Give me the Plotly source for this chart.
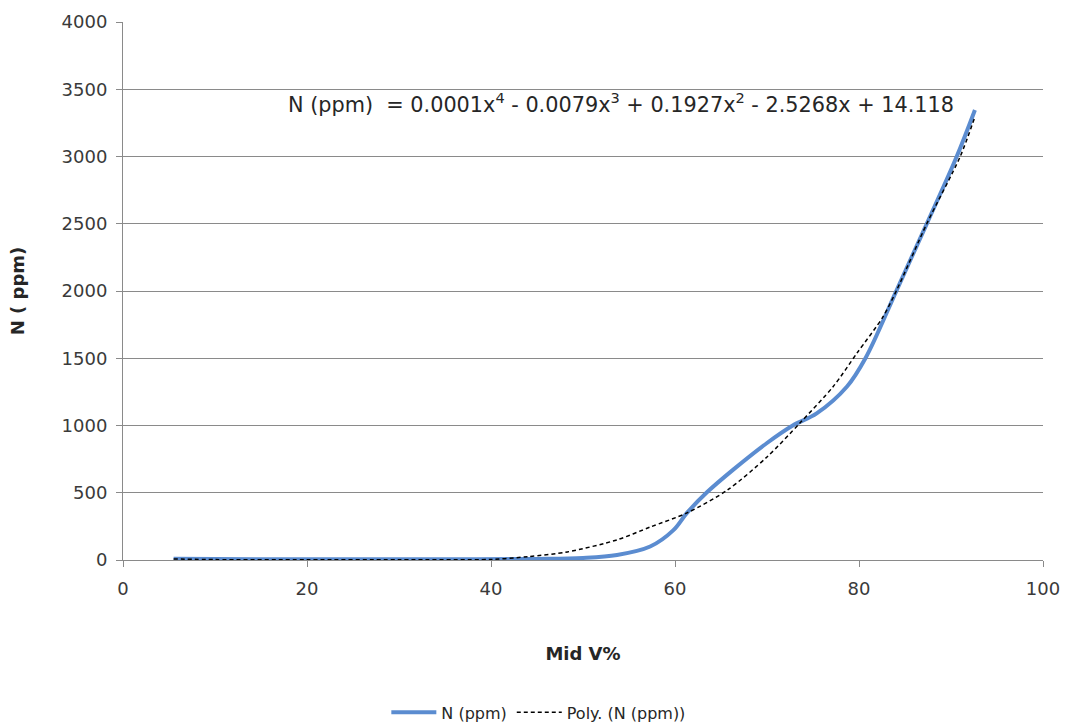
import plotly.graph_objects as go

# Measured nitrogen content against mid volume percent
mid_v = [5.5, 15, 25, 35, 45, 50, 53.7, 57.3, 59.8, 61.3, 63.5, 66.3, 70,
         72.8, 75.4, 78.7, 80.7, 84.1, 87.4, 90.6, 92.6]
n_ppm = [10, 6, 6, 6, 8, 15, 37, 100, 220, 350, 505, 670, 870,
         1000, 1090, 1290, 1500, 2007, 2505, 2996, 3346]

# Fourth-order polynomial trend values
poly_x = [5.5, 10, 20, 30, 40, 44, 48.3, 53.7, 57.3, 61.3, 65.7, 70,
          73.6, 77.2, 79.8, 82.6, 84.1, 87.4, 91, 92.6]
poly_y = [8, 3, 2, 2, 4, 25, 60, 150, 245, 350, 520, 766,
          1020, 1290, 1540, 1807, 2007, 2505, 3000, 3295]

y_ticks = [0, 500, 1000, 1500, 2000, 2500, 3000, 3500, 4000]
x_ticks = [0, 20, 40, 60, 80, 100]

equation = ("N (ppm)  = 0.0001x<sup>4</sup> - 0.0079x<sup>3</sup> + "
            "0.1927x<sup>2</sup> - 2.5268x + 14.118")

grey = "#8a8a8a"
text_dark = "#262626"
tick_font = dict(family="DejaVu Sans", size=18, color="#3a3a3a")

fig = go.Figure()
fig.add_trace(go.Scatter(
    x=mid_v, y=n_ppm, mode="lines", name="N (ppm)",
    line=dict(color="#5b8cd0", width=4, shape="spline", smoothing=1.0),
))
fig.add_trace(go.Scatter(
    x=poly_x, y=poly_y, mode="lines", name="Poly. (N (ppm))",
    line=dict(color="#000000", width=1.5, dash="4px,3px", shape="spline", smoothing=0.8),
))

fig.add_annotation(
    x=92.6, y=3346, xref="x", yref="y", text=equation, showarrow=False,
    xanchor="right", yanchor="middle", xshift=-19, yshift=7,
    font=dict(family="DejaVu Sans", size=20.8, color=text_dark),
)

fig.update_xaxes(
    range=[0, 100], tickvals=x_ticks, showgrid=False, zeroline=False,
    showline=True, linecolor=grey, linewidth=1,
    ticks="outside", ticklen=6, tickcolor=grey,
    tickfont=tick_font, automargin=False, ticklabelstandoff=6,
    title=dict(text="<b>Mid V%</b>", standoff=49,
               font=dict(family="DejaVu Sans", size=18, color=text_dark)),
)
fig.update_yaxes(
    range=[0, 4000], tickvals=y_ticks, showgrid=True, gridcolor=grey, gridwidth=1,
    zeroline=False, showline=True, linecolor=grey, linewidth=1,
    ticks="outside", ticklen=6, tickcolor=grey,
    tickfont=tick_font, automargin=False, ticklabelstandoff=5,
    title=dict(text="<b>N ( ppm)</b>", standoff=32,
               font=dict(family="DejaVu Sans", size=18, color=text_dark)),
)

fig.update_layout(
    width=1067, height=727,
    margin=dict(l=123, r=24, t=22, b=167),
    plot_bgcolor="white", paper_bgcolor="white",
    showlegend=True,
    legend=dict(
        orientation="h", xref="container", yref="container",
        x=0.505, y=0.02, xanchor="center", yanchor="middle",
        font=dict(family="DejaVu Sans", size=16, color=text_dark),
        itemwidth=45,
    ),
)

fig.write_html("out.html")
